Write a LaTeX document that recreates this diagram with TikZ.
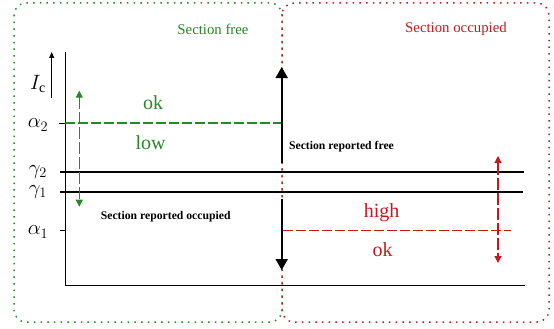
\documentclass[tikz,border=0pt]{standalone}
\usepackage{fontspec}
\setmainfont{Liberation Serif}
\usetikzlibrary{arrows.meta}
\definecolor{gr}{RGB}{40,135,40}
\definecolor{rd}{RGB}{195,25,30}
\tikzset{
  box/.style={line width=1.5pt, dash pattern=on 1.5pt off 5.2pt, rounded corners=12pt},
  axis/.style={line width=1pt, black},
  level/.style={line width=2pt, black},
  thr/.style={line width=1.3pt, dash pattern=on 10pt off 3pt},
  big/.style={line width=2pt, -{Triangle[length=11pt,width=12pt]}},
  small/.style={line width=1.3pt, dash pattern=on 12pt off 3pt, {Triangle[length=7pt,width=7pt]}-{Triangle[length=7pt,width=7pt]}},
  lbl/.style={inner sep=0pt, font=\fontsize{20}{22}\selectfont},
  hdr/.style={inner sep=0pt, font=\fontsize{14.8}{16}\selectfont},
  rep/.style={inner sep=0pt, font=\fontsize{11.7}{13}\selectfont\bfseries},
}
\begin{document}
\begin{tikzpicture}[x=1pt,y=-1pt]
\useasboundingbox (0,0) rectangle (554,329);
% boxes
\draw[box, gr] (14,3) rectangle (282,322);
\draw[box, rd] (282,3) rectangle (549,322);
% axes
\coordinate (o) at (65,285);
\coordinate (top) at (65,52);
\coordinate (xe) at (525,285);
\draw[axis] (top) -- (o) -- (xe);
\coordinate (ic1) at (51.7,98);
\coordinate (ic2) at (51.7,52);
\draw[line width=1pt, -{Triangle[length=6pt,width=5pt]}] (ic1) -- (ic2);
\node[lbl] (ic) at (38,84) {$I_{\mathrm{c}}$};
% ticks
\coordinate (a2a) at (59,123); \coordinate (a2b) at (65,123);
\draw[axis] (a2a) -- (a2b);
\coordinate (a1a) at (60,230.7); \coordinate (a1b) at (65,230.7);
\draw[axis] (a1a) -- (a1b);
\node[lbl] (la2) at (38,125) {$\alpha_2$};
\node[lbl] (lg2) at (38,172) {$\gamma_2$};
\node[lbl] (lg1) at (38,192) {$\gamma_1$};
\node[lbl] (la1) at (38,232) {$\alpha_1$};
% gamma lines
\coordinate (g2a) at (60,172.3); \coordinate (g2b) at (524,172.3);
\coordinate (g1a) at (60,192.3); \coordinate (g1b) at (523,192.3);
\draw[level] (g2a) -- (g2b);
\draw[level] (g1a) -- (g1b);
% green threshold
\coordinate (t2a) at (65,123); \coordinate (t2b) at (281,123);
\draw[thr, gr] (t2a) -- (t2b);
\coordinate (ga) at (79.3,90.7); \coordinate (gb) at (79.3,206.7);
\draw[small, gr] (ga) -- (gb);
\node[lbl, gr] (ok1) at (153,103) {ok};
\node[lbl, gr] (low) at (150.5,143) {low};
% red threshold
\coordinate (t1a) at (283,230.3); \coordinate (t1b) at (510.7,230.3);
\draw[thr, rd] (t1a) -- (t1b);
\coordinate (ra) at (498,156); \coordinate (rb) at (498,263);
\draw[small, rd] (ra) -- (rb);
\node[lbl, rd] (high) at (381.7,213) {high};
\node[lbl, rd] (ok2) at (382.7,250) {ok};
% big arrows
\coordinate (u1) at (281.7,163); \coordinate (u2) at (281.7,67);
\draw[big] (u1) -- (u2);
\coordinate (d1) at (281.7,199); \coordinate (d2) at (281.7,270);
\draw[big] (d1) -- (d2);
% headers
\node[hdr, gr] (sf) at (213,29.3) {Section free};
\node[hdr, rd] (so) at (456,29.3) {Section occupied};
\node[rep] (rf) at (341.5,147) {Section reported free};
\node[rep] (ro) at (165.7,217) {Section reported occupied};
\end{tikzpicture}
\end{document}
